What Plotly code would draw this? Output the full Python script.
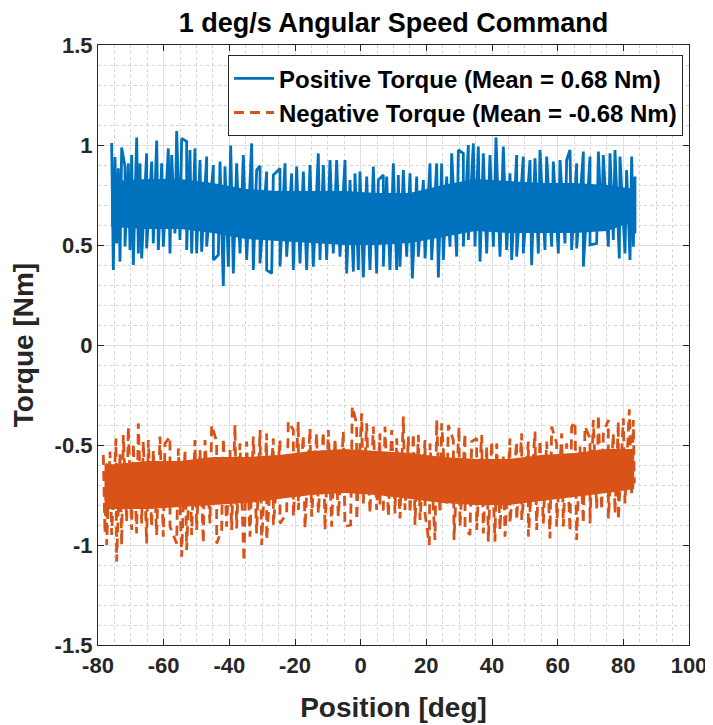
import plotly.graph_objects as go

# ---------------- data ----------------
# Positive torque: spike tips of the upper edge
pos_up_x = [-75.84, -74.82, -73.81, -72.79, -71.78, -70.76, -69.75, -68.22, -67.21, -65.18,
            -63.65, -62.13, -60.61, -58.58, -57.56, -56.04, -54.52, -53.0, -51.98, -50.46,
            -48.93, -46.9, -44.87, -42.84, -41.32, -39.59, -37.77, -35.74, -33.2, -31.68,
            -30.66, -28.63, -26.6, -24.57, -23.05, -21.02, -19.49, -17.46, -15.43, -12.9,
            -11.37, -9.34, -7.31, -4.77, -3.25, -1.73, -0.21, 1.83, 3.86, 5.38,
            6.9, 7.92, 9.95, 11.47, 13.0, 15.03, 17.06, 19.09, 21.12, 23.15,
            24.67, 26.19, 27.72, 29.75, 31.27, 32.79, 34.32, 35.84, 37.36, 39.39,
            41.22, 43.45, 45.48, 47.51, 49.54, 51.57, 53.1, 54.62, 56.65, 58.68,
            60.71, 62.74, 63.76, 65.79, 67.82, 69.85, 72.4, 73.9, 75.94, 77.46,
            78.98, 81.0, 82.54, 83.55]
pos_up_y = [1.01, 0.94, 0.883, 0.988, 0.892, 0.908, 0.95, 1.037, 0.908, 0.958,
            0.917, 1.022, 0.908, 0.983, 0.95, 1.07, 1.033, 1.017, 0.975, 0.983,
            0.925, 0.942, 0.9, 0.917, 0.892, 0.997, 0.908, 0.95, 1.008, 0.875,
            0.895, 0.867, 0.85, 0.883, 0.908, 0.858, 0.892, 0.867, 0.9, 0.958,
            0.9, 0.925, 0.925, 0.925, 0.825, 0.858, 0.867, 0.842, 0.892, 0.825,
            0.85, 0.842, 0.908, 0.85, 0.875, 0.858, 0.842, 0.825, 0.908, 0.908,
            0.908, 0.842, 0.958, 0.975, 0.958, 1.0, 1.008, 0.992, 0.958, 0.95,
            1.038, 0.992, 0.858, 0.95, 0.942, 0.925, 0.933, 0.975, 0.942, 0.917,
            0.925, 0.925, 0.975, 0.908, 0.967, 0.942, 0.967, 0.95, 0.958, 0.975,
            0.942, 0.875, 0.942, 0.842]
# Positive torque: spike tips of the lower edge
pos_lo_x = [-75.33, -74.31, -73.3, -71.78, -70.25, -69.24, -67.71, -66.7, -65.18, -63.15,
            -61.62, -60.1, -58.07, -56.55, -55.03, -53.0, -51.47, -49.95, -48.43, -46.9,
            -44.87, -43.35, -41.83, -40.3, -38.78, -36.75, -34.72, -32.69, -30.66, -28.63,
            -27.11, -24.57, -22.54, -20.51, -18.48, -16.45, -14.42, -12.39, -10.36, -8.33,
            -6.3, -4.26, -2.23, -0.71, 0.81, 2.84, 4.87, 6.9, 8.93, 10.96,
            11.98, 14.01, 15.74, 17.56, 19.6, 21.63, 23.66, 25.18, 27.21, 29.24,
            31.27, 32.79, 34.82, 36.35, 38.38, 40.41, 42.44, 44.47, 45.99, 47.51,
            49.54, 52.08, 54.11, 56.14, 58.17, 60.2, 62.23, 64.26, 65.79, 67.82,
            69.85, 71.88, 73.4, 75.43, 76.95, 78.78, 80.5, 82.03, 83.05, 83.55]
pos_lo_y = [0.375, 0.508, 0.417, 0.492, 0.475, 0.4, 0.458, 0.433, 0.483, 0.508,
            0.475, 0.492, 0.458, 0.558, 0.525, 0.475, 0.458, 0.458, 0.467, 0.492,
            0.425, 0.45, 0.295, 0.392, 0.358, 0.458, 0.425, 0.375, 0.408, 0.375,
            0.358, 0.392, 0.442, 0.375, 0.408, 0.375, 0.392, 0.425, 0.425, 0.458,
            0.442, 0.358, 0.367, 0.375, 0.338, 0.375, 0.358, 0.392, 0.375, 0.375,
            0.392, 0.442, 0.333, 0.442, 0.433, 0.425, 0.338, 0.425, 0.492, 0.442,
            0.492, 0.525, 0.492, 0.417, 0.458, 0.492, 0.442, 0.475, 0.425, 0.442,
            0.458, 0.4, 0.458, 0.475, 0.492, 0.458, 0.508, 0.475, 0.483, 0.392,
            0.5, 0.508, 0.592, 0.492, 0.525, 0.433, 0.458, 0.425, 0.492, 0.558]
# Positive torque: dense core of the band
pos_core_x = [-76, -65, -55, -45, -35, -25, -15, -5, 5, 15, 25, 35, 45, 55, 65, 75, 83.5]
pos_core_up = [0.82, 0.83, 0.83, 0.81, 0.78, 0.77, 0.77, 0.77, 0.76, 0.76, 0.80, 0.83, 0.82, 0.81, 0.81, 0.80, 0.78]
pos_core_lo = [0.59, 0.58, 0.58, 0.56, 0.53, 0.52, 0.51, 0.50, 0.50, 0.51, 0.54, 0.57, 0.56, 0.56, 0.56, 0.57, 0.62]

# Negative torque: spike tips of the upper edge
neg_up_x = [-78.38, -77.36, -76.35, -74.52, -73.3, -72.29, -70.77, -69.24, -67.72, -66.2,
            -64.67, -63.15, -61.12, -59.6, -58.08, -55.54, -53.51, -51.98, -50.46, -48.94,
            -47.42, -45.39, -43.86, -41.83, -39.8, -38.28, -36.76, -34.73, -32.7, -30.66,
            -28.64, -26.6, -24.57, -22.04, -20.51, -18.99, -17.47, -15.44, -13.41, -11.38,
            -9.85, -7.82, -5.28, -2.55, -1.22, 0.3, 1.82, 3.85, 5.89,
            7.41, 9.44, 10.97, 13.0, 14.52, 16.04, 17.56, 19.59, 21.12, 23.15,
            24.67, 26.7, 28.22, 29.95, 31.78, 33.81, 35.33, 36.85, 38.38, 39.9,
            41.42, 43.45, 45.48, 47.51, 49.04, 51.07, 53.1, 54.62, 56.65, 58.17,
            59.69, 61.22, 62.74, 64.26, 65.28, 66.8, 68.32, 69.85, 70.86, 72.38,
            73.91, 75.43, 76.95, 78.48, 80.0, 81.83, 83.04]
neg_up_y = [-0.55, -0.592, -0.533, -0.467, -0.542, -0.45, -0.408, -0.492, -0.392, -0.483,
            -0.475, -0.525, -0.458, -0.492, -0.458, -0.517, -0.525, -0.575, -0.475, -0.525,
            -0.475, -0.4, -0.483, -0.467, -0.525, -0.4, -0.492, -0.483, -0.458, -0.425,
            -0.442, -0.467, -0.475, -0.383, -0.425, -0.383, -0.45, -0.417, -0.442, -0.433,
            -0.425, -0.467, -0.433, -0.308, -0.392, -0.342, -0.392, -0.408, -0.442,
            -0.408, -0.425, -0.467, -0.358, -0.458, -0.442, -0.45, -0.475, -0.492, -0.375,
            -0.392, -0.4, -0.475, -0.408, -0.442, -0.483, -0.467, -0.45, -0.508, -0.483,
            -0.492, -0.558, -0.467, -0.483, -0.442, -0.483, -0.433, -0.475, -0.483, -0.408,
            -0.492, -0.442, -0.492, -0.408, -0.383, -0.508, -0.408, -0.467, -0.375, -0.35,
            -0.442, -0.375, -0.442, -0.383, -0.367, -0.322, -0.375]
# Negative torque: spike tips of the lower edge
neg_lo_x = [-77.87, -77.36, -75.84, -74.32, -72.8, -71.27, -69.75, -68.23, -66.7, -65.18,
            -63.66, -62.14, -60.11, -58.08, -56.04, -54.52, -53.0, -51.48, -49.95, -47.92,
            -45.89, -43.86, -42.34, -40.82, -39.29, -37.77, -35.54, -33.71, -31.68, -30.16,
            -28.64, -26.6, -24.57, -22.54, -20.51, -18.99, -16.96, -14.93, -12.9, -10.87,
            -8.84, -6.81, -4.78, -3.05, -1.22, 0.81, 2.84, 4.87, 5.89,
            6.9, 8.43, 10.46, 11.98, 13.5, 15.03, 16.55, 18.07, 19.6, 20.91,
            22.64, 24.16, 26.19, 28.43, 30.25, 31.78, 33.3, 35.33, 37.36, 38.88,
            40.91, 42.44, 43.96, 45.48, 47.51, 49.04, 51.07, 53.6, 55.63, 57.66,
            59.69, 61.72, 63.76, 65.79, 67.82, 69.85, 71.88, 73.4, 75.43, 77.46,
            78.48, 80.5, 82.54, 83.35]
neg_lo_y = [-0.942, -1.0, -0.95, -1.083, -1.0, -0.883, -0.925, -0.942, -0.892, -0.992,
            -0.908, -0.95, -0.958, -0.908, -0.992, -1.058, -1.025, -0.95, -0.925, -0.992,
            -0.892, -0.992, -0.925, -0.908, -0.925, -0.917, -1.083, -0.958, -0.942, -1.0,
            -0.975, -0.9, -0.892, -0.842, -0.858, -0.825, -0.917, -0.858, -0.842, -0.925,
            -0.908, -0.858, -0.908, -0.9, -0.875, -0.792, -0.842, -0.825, -0.808,
            -0.825, -0.858, -0.842, -0.867, -0.825, -0.842, -0.9, -0.875, -0.842, -1.0,
            -0.975, -0.842, -0.792, -0.975, -0.908, -0.917, -0.95, -0.925, -0.942, -0.983,
            -0.983, -0.925, -0.958, -0.892, -0.875, -0.875, -0.958, -0.925, -0.892, -0.967,
            -0.908, -0.908, -0.933, -0.975, -0.892, -0.892, -0.817, -0.825, -0.867, -0.842,
            -0.875, -0.792, -0.75, -0.692]
# Negative torque: dense core of the band
neg_core_x = [-78, -65, -55, -45, -35, -25, -15, -5, 5, 15, 25, 35, 45, 55, 65, 75, 83.3]
neg_core_up = [-0.60, -0.58, -0.58, -0.56, -0.56, -0.55, -0.53, -0.52, -0.53, -0.54, -0.56, -0.57, -0.57, -0.55, -0.54, -0.52, -0.52]
neg_core_lo = [-0.82, -0.82, -0.81, -0.80, -0.79, -0.77, -0.75, -0.74, -0.75, -0.77, -0.79, -0.80, -0.80, -0.78, -0.76, -0.74, -0.72]

series_names = ["Positive Torque (Mean = 0.68 Nm)", "Negative Torque (Mean = -0.68 Nm)"]
x_tickvals = [-80, -60, -40, -20, 0, 20, 40, 60, 80, 100]
x_ticktext = ["-80", "-60", "-40", "-20", "0", "20", "40", "60", "80", "100"]
y_tickvals = [-1.5, -1, -0.5, 0, 0.5, 1, 1.5]
y_ticktext = ["-1.5", "-1", "-0.5", "0", "0.5", "1", "1.5"]

BLUE = "#0072BD"
ORANGE = "#D95319"
FONT = "Liberation Sans, Arial, sans-serif"


def zigzag(ux, uy, lx, ly):
    pts = sorted(zip(list(ux) + list(lx), list(uy) + list(ly)), key=lambda p: p[0])
    return [p[0] for p in pts], [p[1] for p in pts]


def core_polygon(cx, cu, cl):
    return list(cx) + list(cx[::-1]), list(cu) + list(cl[::-1])


fig = go.Figure()

px_, py_ = core_polygon(pos_core_x, pos_core_up, pos_core_lo)
fig.add_trace(go.Scatter(x=px_, y=py_, fill="toself", fillcolor=BLUE, mode="lines",
                         line=dict(width=0, color=BLUE), showlegend=False, hoverinfo="skip"))
nx_, ny_ = core_polygon(neg_core_x, neg_core_up, neg_core_lo)
fig.add_trace(go.Scatter(x=nx_, y=ny_, fill="toself", fillcolor=ORANGE, mode="lines",
                         line=dict(width=0, color=ORANGE), showlegend=False, hoverinfo="skip"))

zx, zy = zigzag(pos_up_x, pos_up_y, pos_lo_x, pos_lo_y)
fig.add_trace(go.Scatter(x=zx, y=zy, mode="lines", name=series_names[0],
                         line=dict(color=BLUE, width=2.8)))
zx, zy = zigzag(neg_up_x, neg_up_y, neg_lo_x, neg_lo_y)
fig.add_trace(go.Scatter(x=zx, y=zy, mode="lines", name=series_names[1],
                         line=dict(color=ORANGE, width=2.8, dash="10px,6px")))

axis_common = dict(
    showline=True, linecolor="#262626", linewidth=1.2, mirror="ticks",
    ticks="inside", ticklen=6, tickwidth=1, tickcolor="#262626",
    showgrid=True, gridcolor="#e0e0e0", gridwidth=1, zeroline=False,
    tickfont=dict(family=FONT, size=22, color="#262626", weight="bold"),
)

fig.update_xaxes(
    range=[-80, 100], tickmode="array", tickvals=x_tickvals, ticktext=x_ticktext,
    minor=dict(dtick=5, showgrid=True, gridcolor="#d4d4d4", griddash="dot", ticks=""),
    title=dict(text="Position [deg]", font=dict(family=FONT, size=28, color="#262626", weight="bold"),
               standoff=20),
    **axis_common,
)
fig.update_yaxes(
    range=[-1.5, 1.5], tickmode="array", tickvals=y_tickvals, ticktext=y_ticktext,
    minor=dict(dtick=0.1, showgrid=True, gridcolor="#d4d4d4", griddash="dot", ticks=""),
    title=dict(text="Torque [Nm]", font=dict(family=FONT, size=28, color="#262626", weight="bold"),
               standoff=12),
    **axis_common,
)

# the page adds an 8 px body margin, so the figure is 8 px smaller than the window
fig.update_layout(
    width=705, height=717,
    margin=dict(l=90, r=24, t=37, b=80, autoexpand=False),
    paper_bgcolor="white", plot_bgcolor="white",
    title=dict(text="1 deg/s Angular Speed Command", x=0.5, xref="paper", xanchor="center",
               y=1 - 15 / 717, yref="container", yanchor="middle",
               font=dict(family=FONT, size=27, color="black", weight="bold")),
    legend=dict(x=0.22, y=0.983, xanchor="left", yanchor="top",
                bgcolor="white", bordercolor="#262626", borderwidth=1,
                font=dict(family=FONT, size=24, color="black", weight="bold"),
                tracegroupgap=0, itemwidth=40),
    showlegend=True,
)

fig.write_html("out.html")
